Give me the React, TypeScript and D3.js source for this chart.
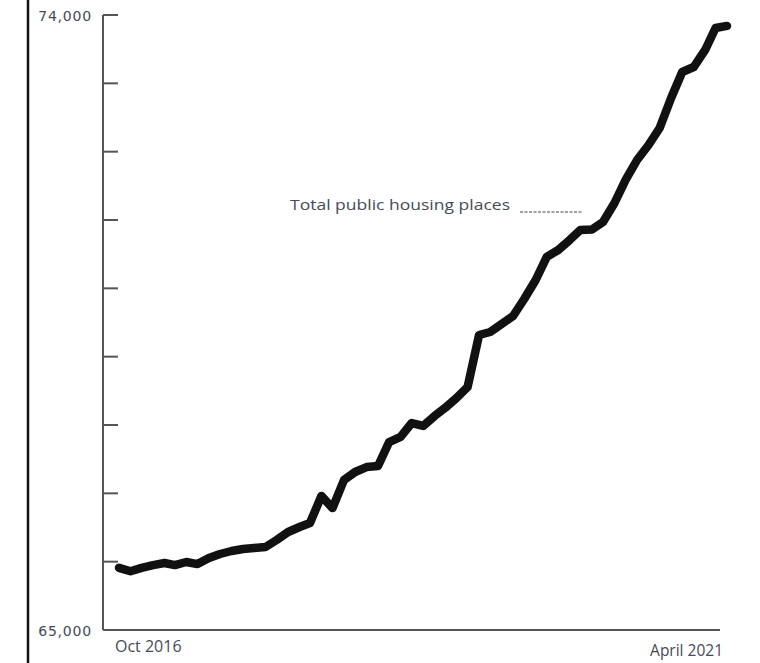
import React from "react";
import * as d3 from "d3";

// Monthly total public housing places, Oct 2016 – Apr 2021
const startMonth = new Date(2016, 9, 1);
const endMonth = new Date(2021, 3, 1);
const housingPlaces = [
  65910, 65860, 65910, 65950, 65980, 65950, 65995, 65965, 66054, 66112,
  66156, 66185, 66200, 66215, 66317, 66434, 66507, 66566, 66961, 66785,
  67195, 67312, 67385, 67400, 67751, 67825, 68029, 67986, 68132, 68249,
  68395, 68556, 69317, 69361, 69478, 69595, 69844, 70122, 70459, 70561,
  70708, 70854, 70860, 70971, 71249, 71586, 71878, 72098, 72347, 72786,
  73166, 73239, 73488, 73810, 73840,
];
const yTicks = [65000, 66000, 67000, 68000, 69000, 70000, 71000, 72000, 73000, 74000];
const yLabels = [65000, 74000];
const xLabels = ["Oct 2016", "April 2021"];
const seriesLabel = "Total public housing places";

export default function App() {
  const months = d3.timeMonth.range(startMonth, d3.timeMonth.offset(endMonth, 1));
  const data = months.map((m, i) => ({ date: m, value: housingPlaces[i] }));

  const x = d3.scaleTime().domain([startMonth, endMonth]).range([119, 727]);
  const y = d3.scaleLinear().domain([65000, 74000]).range([630, 15]);

  const line = d3
    .line<{ date: Date; value: number }>()
    .x((d) => x(d.date))
    .y((d) => y(d.value))
    .curve(d3.curveLinear);

  const axisX = 103;
  const fmt = d3.format(",");
  const labelFont = "'DejaVu Sans', sans-serif";
  const textFont = "'Open Sans', sans-serif";
  const textColor = "#464a5a";

  return (
    <svg
      width={760}
      height={663}
      style={{ position: "absolute", left: 0, top: 0, background: "#fff" }}
    >
      {/* frame line on the left */}
      <line x1={28} x2={28} y1={0} y2={663} stroke="#111" strokeWidth={2.5} />

      {/* y axis with inward ticks */}
      <line x1={axisX} x2={axisX} y1={y(74000)} y2={y(65000)} stroke="#555" strokeWidth={2} />
      {yTicks.map((t) => (
        <line
          key={t}
          x1={axisX}
          x2={axisX + 15}
          y1={y(t)}
          y2={y(t)}
          stroke="#555"
          strokeWidth={2}
        />
      ))}
      {/* x axis */}
      <line x1={axisX} x2={720} y1={y(65000)} y2={y(65000)} stroke="#555" strokeWidth={2} />

      {yLabels.map((t) => (
        <text
          key={t}
          x={92}
          y={y(t) + 6}
          textAnchor="end"
          fontFamily={labelFont}
          fontSize={14}
          letterSpacing={0.8}
          fill={textColor}
        >
          {fmt(t)}
        </text>
      ))}

      <text x={115} y={652} fontFamily={textFont} fontSize={16} fill={textColor}>
        {xLabels[0]}
      </text>
      <text x={723} y={656} textAnchor="end" fontFamily={textFont} fontSize={15.5} fill={textColor}>
        {xLabels[1]}
      </text>

      {/* series annotation */}
      <text
        x={290}
        y={210}
        fontFamily={textFont}
        fontSize={14.5}
        fill={textColor}
        textLength={220}
        lengthAdjust="spacingAndGlyphs"
      >
        {seriesLabel}
      </text>
      <line x1={520} x2={583} y1={212} y2={212} stroke="#444" strokeWidth={1} strokeDasharray="3,1.5" />

      <path
        d={line(data) ?? ""}
        fill="none"
        stroke="#111"
        strokeWidth={8.5}
        strokeLinejoin="round"
        strokeLinecap="round"
      />
    </svg>
  );
}
